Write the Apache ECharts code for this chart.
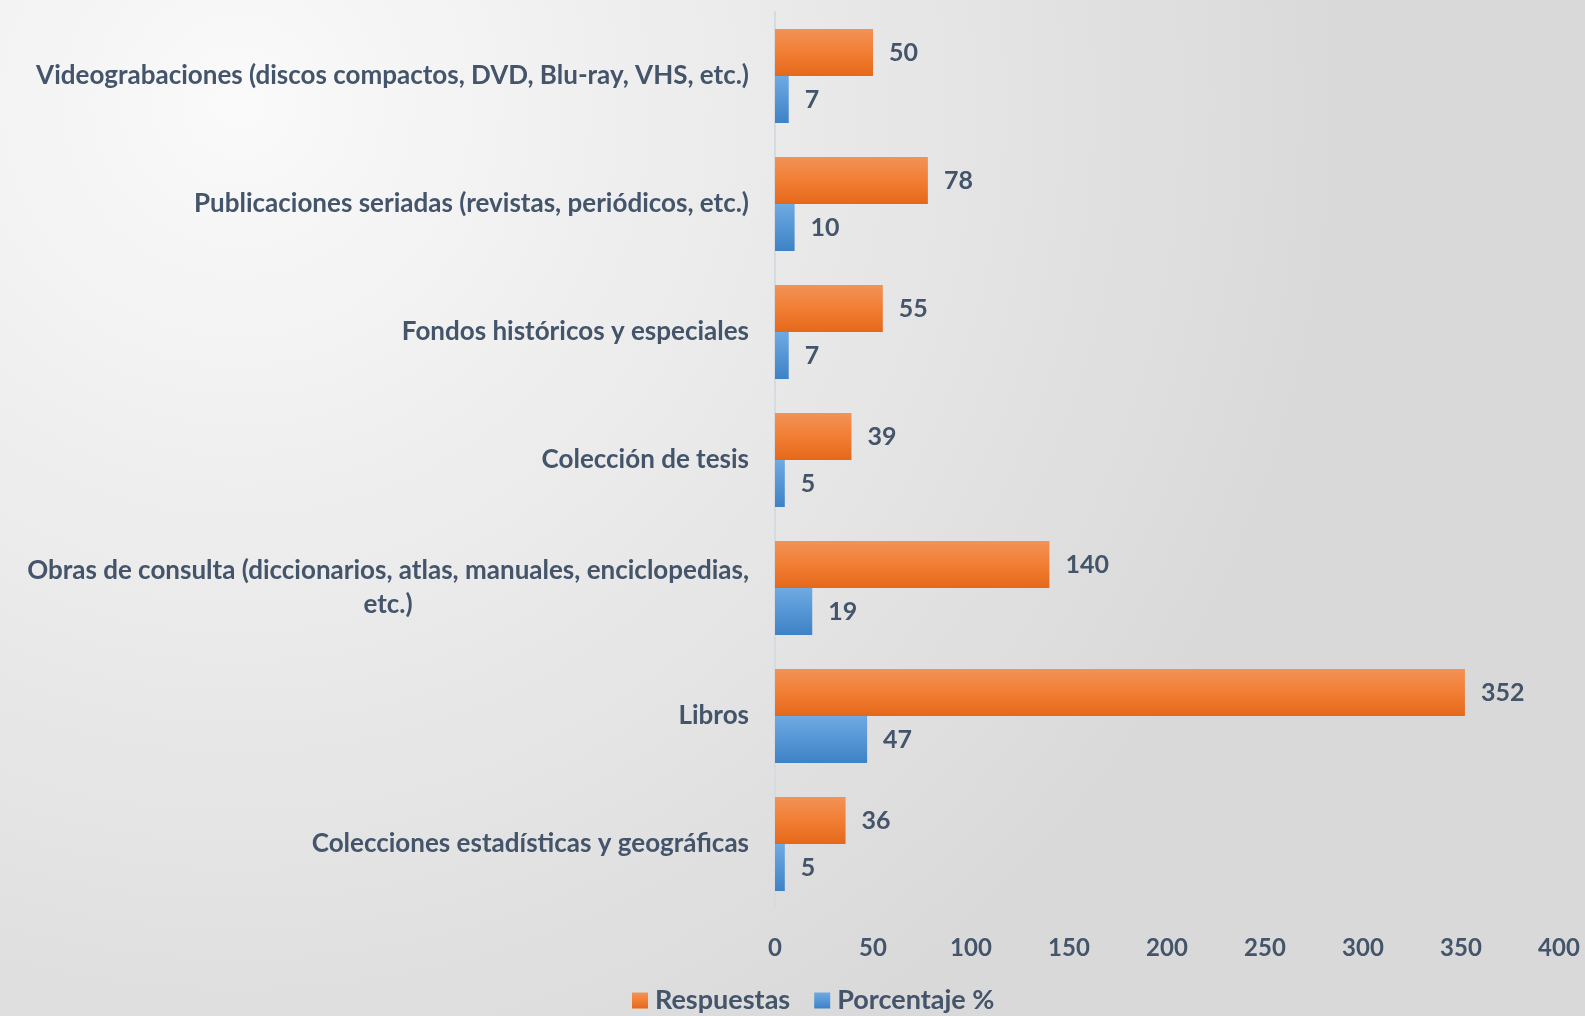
<!DOCTYPE html>
<html>
<head>
<meta charset="utf-8">
<script src="https://cdn.jsdelivr.net/npm/echarts@6/dist/echarts.min.js"></script>
<style>
  html, body { margin: 0; padding: 0; }
  #chart { width: 1585px; height: 1016px; }
</style>
</head>
<body>
<div id="chart"></div>
<script>
// categories bottom -> top
var categories = [
  'Colecciones estadísticas y geográficas',
  'Libros',
  'Obras de consulta (diccionarios, atlas, manuales, enciclopedias,\netc.)',
  'Colección de tesis',
  'Fondos históricos y especiales',
  'Publicaciones seriadas (revistas, periódicos, etc.)',
  'Videograbaciones (discos compactos, DVD, Blu-ray, VHS, etc.)'
];
var respuestas = [36, 352, 140, 39, 55, 78, 50];
var porcentaje = [5, 47, 19, 5, 7, 10, 7];
var xTicks = { min: 0, max: 400, interval: 50 };

var textColor = '#44546a';
var font = 'Lato';

var chart = echarts.init(document.getElementById('chart'));

var option = {
  backgroundColor: new echarts.graphic.RadialGradient(0.15, 0.1, 1.1, [
    { offset: 0, color: '#fafafa' },
    { offset: 1, color: '#d9d9d9' }
  ]),
  textStyle: { fontFamily: font },
  legend: {
    bottom: -3,
    left: 627,
    itemWidth: 16,
    itemHeight: 16,
    itemGap: 24,
    icon: 'rect',
    textStyle: { color: textColor, fontSize: 27, fontWeight: 'bold', fontFamily: font, padding: [0, 0, 0, 2] },
    data: ['Respuestas', 'Porcentaje %']
  },
  grid: {
    left: 775,
    right: 26,
    top: 12,
    bottom: 108,
    containLabel: false
  },
  xAxis: {
    type: 'value',
    min: xTicks.min,
    max: xTicks.max,
    interval: xTicks.interval,
    axisLine: { show: false },
    axisTick: { show: false },
    splitLine: { show: false },
    axisLabel: { color: textColor, fontSize: 24, fontWeight: 'bold', fontFamily: font, margin: 28 }
  },
  yAxis: {
    type: 'category',
    data: categories,
    axisLine: { show: true, lineStyle: { color: '#d6dbe2', width: 2 } },
    axisTick: { show: false },
    axisLabel: {
      color: textColor,
      fontSize: 26,
      fontWeight: 'bold',
      fontFamily: font,
      margin: 26,
      align: 'right',
      lineHeight: 34,
      formatter: function (v) {
        return v.split('\n').map(function (s) { return '{c|' + s + '}'; }).join('\n');
      },
      rich: {
        c: {
          align: 'center',
          color: textColor,
          fontSize: 26,
          fontWeight: 'bold',
          fontFamily: font,
          lineHeight: 34
        }
      }
    }
  },
  series: [
    {
      name: 'Respuestas',
      type: 'bar',
      data: respuestas,
      barWidth: 47,
      barGap: '0%',
      itemStyle: {
        color: new echarts.graphic.LinearGradient(0, 0, 0, 1, [
          { offset: 0, color: '#f39256' },
          { offset: 0.5, color: '#f27e33' },
          { offset: 1, color: '#e4681a' }
        ])
      },
      label: {
        show: true,
        position: 'right',
        distance: 16,
        color: textColor,
        fontSize: 25,
        fontWeight: 'bold',
        fontFamily: font
      }
    },
    {
      name: 'Porcentaje %',
      type: 'bar',
      data: porcentaje,
      barWidth: 47,
      barGap: '0%',
      itemStyle: {
        color: new echarts.graphic.LinearGradient(0, 0, 0, 1, [
          { offset: 0, color: '#6fa9e2' },
          { offset: 0.5, color: '#5597d6' },
          { offset: 1, color: '#3d82c4' }
        ])
      },
      label: {
        show: true,
        position: 'right',
        distance: 16,
        color: textColor,
        fontSize: 25,
        fontWeight: 'bold',
        fontFamily: font
      }
    }
  ]
};

chart.setOption(option);
</script>
</body>
</html>
